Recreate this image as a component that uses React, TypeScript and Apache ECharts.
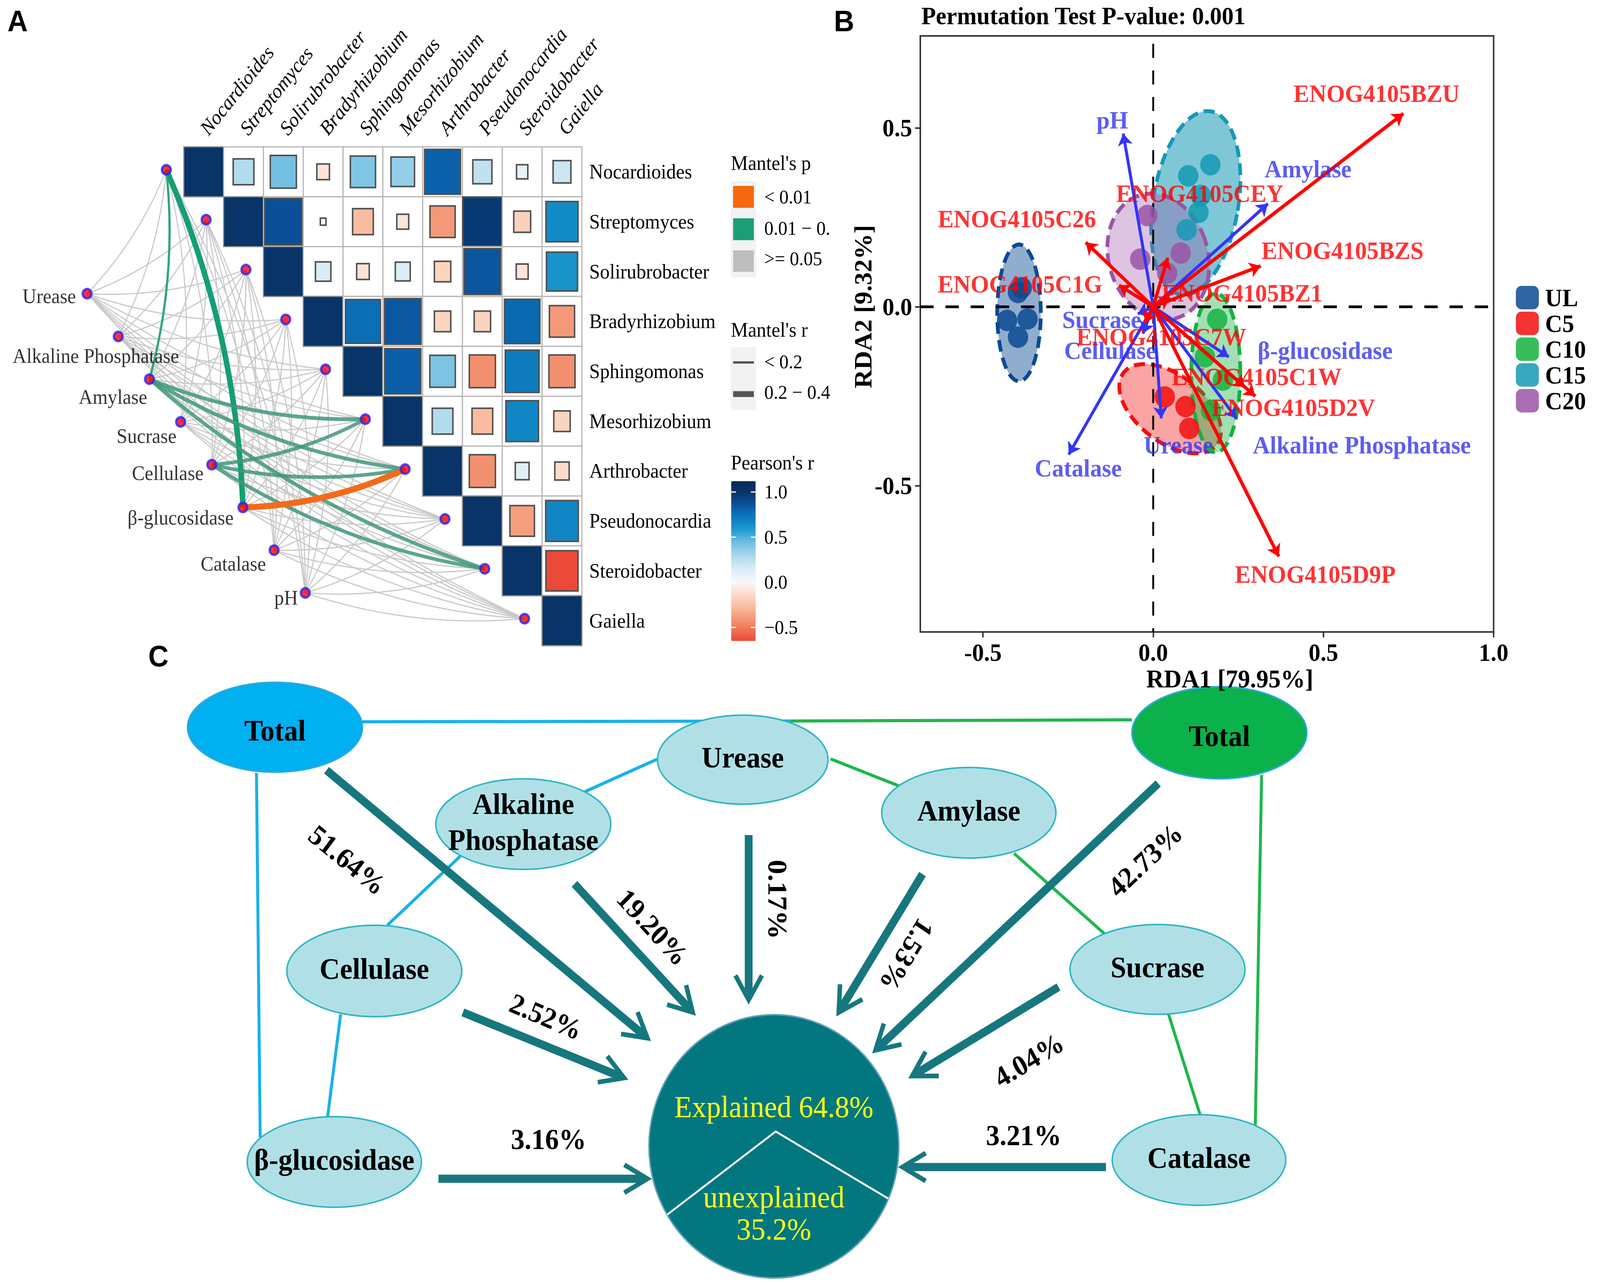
import React, { useEffect, useRef, useState } from "react";
import * as echarts from "echarts";

const W = 4317;
const H = 3290;
const SERIF = "'Liberation Serif', 'Times New Roman', serif";
const SANS = "'Liberation Sans', Arial, sans-serif";

// ================= Panel A data =================
const taxa = ["Nocardioides", "Streptomyces", "Solirubrobacter", "Bradyrhizobium", "Sphingomonas", "Mesorhizobium", "Arthrobacter", "Pseudonocardia", "Steroidobacter", "Gaiella"];
const envFactors = ["Urease", "Alkaline Phosphatase", "Amylase", "Sucrase", "Cellulase", "β-glucosidase", "Catalase", "pH"];
// Pearson's r, upper triangle (row i starts at column i)
const pearsonRow0 = [1.0, 0.27, 0.43, -0.1, 0.4, 0.35, 0.81, 0.23, 0.08, 0.2];
const pearsonRow1 = [1.0, 0.87, 0.02, -0.27, -0.09, -0.4, 0.97, -0.18, 0.65];
const pearsonRow2 = [1.0, 0.15, -0.1, 0.14, -0.17, 0.85, -0.09, 0.61];
const pearsonRow3 = [1.0, 0.77, 0.84, -0.17, -0.17, 0.79, -0.4];
const pearsonRow4 = [1.0, 0.82, 0.41, -0.43, 0.72, -0.43];
const pearsonRow5 = [1.0, 0.27, -0.27, 0.67, -0.17];
const pearsonRow6 = [1.0, -0.43, 0.12, -0.13];
const pearsonRow7 = [1.0, -0.38, 0.67];
const pearsonRow8 = [1.0, -0.65];
const pearsonRow9 = [1.0];
const pearsonUpper = [pearsonRow0, pearsonRow1, pearsonRow2, pearsonRow3, pearsonRow4, pearsonRow5, pearsonRow6, pearsonRow7, pearsonRow8, pearsonRow9];
// significant Mantel links
const mantelEnv = ["β-glucosidase", "Amylase", "Amylase", "Amylase", "Amylase", "Cellulase", "Cellulase", "Cellulase", "β-glucosidase"];
const mantelTaxon = ["Nocardioides", "Nocardioides", "Mesorhizobium", "Arthrobacter", "Steroidobacter", "Mesorhizobium", "Arthrobacter", "Steroidobacter", "Arthrobacter"];
const mantelP = ["0.01-0.05", "0.01-0.05", "0.01-0.05", "0.01-0.05", "0.01-0.05", "0.01-0.05", "0.01-0.05", "0.01-0.05", "<0.01"];
const mantelR = [0.37, 0.15, 0.24, 0.24, 0.24, 0.23, 0.23, 0.23, 0.39];
const pearsonTicks = [1.0, 0.5, 0.0, -0.5];
const pearsonTickText = ["1.0", "0.5", "0.0", "−0.5"];
const mantelPLevels = ["< 0.01", "0.01 − 0.", ">= 0.05"];
const mantelRLevels = ["< 0.2", "0.2 − 0.4"];

// ================= Panel B data =================
const rdaGroups = ["UL", "C5", "C10", "C15", "C20"];
const siteUL = [[-0.397, 0.04], [-0.386, 0.053], [-0.429, -0.038], [-0.369, -0.034], [-0.397, -0.085]];
const siteC5 = [[0.034, -0.252], [0.095, -0.279], [0.106, -0.34]];
const siteC10 = [[0.188, -0.035], [0.152, -0.14], [0.205, -0.205], [0.17, -0.29]];
const siteC15 = [[0.168, 0.397], [0.103, 0.366], [0.14, 0.311], [0.133, 0.264], [0.098, 0.215]];
const siteC20 = [[-0.017, 0.255], [-0.038, 0.133], [0.081, 0.15], [0.041, 0.094]];
// ellipse: centre x, centre y, semi-axis x, semi-axis y, rotation (deg)
const ellipseUL = [-0.394, -0.017, 0.064, 0.191, 0];
const ellipseC5 = [0.05, -0.285, 0.17, 0.095, -35];
const ellipseC10 = [0.184, -0.185, 0.072, 0.222, 0];
const ellipseC15 = [0.125, 0.29, 0.125, 0.26, -10];
const ellipseC20 = [0.015, 0.14, 0.145, 0.18, 20];
const envArrowNames = ["pH", "Amylase", "Sucrase", "Cellulase", "β-glucosidase", "Alkaline Phosphatase", "Urease", "Catalase"];
const envArrowTips = [[-0.088, 0.484], [0.337, 0.288], [-0.045, -0.02], [-0.03, -0.075], [0.222, -0.14], [0.245, -0.312], [0.024, -0.312], [-0.248, -0.413]];
const geneArrowNames = ["ENOG4105BZU", "ENOG4105CEY", "ENOG4105C26", "ENOG4105BZS", "ENOG4105C1G", "ENOG4105BZ1", "ENOG4105C7W", "ENOG4105C1W", "ENOG4105D2V", "ENOG4105D9P"];
const geneArrowTips = [[0.735, 0.54], [0.043, 0.137], [-0.198, 0.18], [0.316, 0.114], [-0.1, 0.06], [0.05, 0.025], [-0.025, -0.045], [0.27, -0.225], [0.3, -0.25], [0.369, -0.698]];
const permutationP = "0.001";
const rda1Pct = "79.95";
const rda2Pct = "9.32";

// ================= Panel C data =================
const vpFactors = ["Total", "Alkaline\nPhosphatase", "Urease", "Cellulase", "β-glucosidase", "Amylase", "Total", "Sucrase", "Catalase"];
const vpShares = [51.64, 19.2, 0.17, 2.52, 3.16, 1.53, 42.73, 4.04, 3.21];
const vpExplained = 64.8;
const vpUnexplained = 35.2;

// ================= Layout / styles =================
const envNodeStart = [-2.43, 2.944];
const envNodeStep = [0.783, 0.857];
const taxonNodeShift = [-0.44, 0.46];
const envLabelOffset = [[-30, 7], [164, 50], [-6, 46], [-11, 36], [-22, 22], [-25, 26], [-22, 35], [-20, 13]];

const groupColors = ["#0b4a92", "#f20f0f", "#16b140", "#1599b4", "#9a55a5"];
const groupFill = [0.45, 0.38, 0.4, 0.55, 0.35];
const envLabelAt = [[-0.12, 0.522], [0.455, 0.386], [-0.151, -0.036], [-0.126, -0.122], [0.505, -0.122], [0.613, -0.386], [0.074, -0.386], [-0.22, -0.45]];
const geneLabelAt = [[0.656, 0.597], [0.137, 0.317], [-0.4, 0.246], [0.556, 0.158], [-0.391, 0.064], [0.261, 0.039], [0.024, -0.084], [0.304, -0.195], [0.412, -0.281], [0.476, -0.747]];

// Panel C layout (x, y in panel units)
const vpNodeAt = [[742, 162, 236, 115], [1412, 410, 236, 116], [2004, 245, 230, 114], [1010, 786, 236, 117], [902, 1275, 235, 116], [2614, 381, 235, 116], [3290, 176, 236, 118], [3123, 782, 236, 115], [3235, 1270, 234, 116]];
const vpArrowAt = [[881, 272, 1747, 958], [1550, 563, 1869, 892], [2020, 438, 2020, 860], [1249, 892, 1684, 1060], [1183, 1318, 1747, 1318], [2489, 538, 2263, 892], [3125, 306, 2362, 989], [2856, 827, 2461, 1055], [2984, 1288, 2435, 1288]];
const vpLabelAt = [[937, 502, -38], [1761, 674, -46], [2098, 603, -90], [1473, 903, -22], [1480, 1217, 0], [2446, 745, -122.6], [3090, 502, 42], [2776, 1014, 30], [2762, 1207, 0]];
const vpBlueLinks = [[978, 148, 2133, 146], [1775, 243, 1578, 327], [1242, 492, 1045, 669], [919, 897, 884, 1159], [692, 279, 702, 1212]];
const vpGreenLinks = [[2133, 146, 3054, 143], [2241, 243, 2425, 312], [2736, 485, 2991, 700], [3153, 897, 3238, 1154], [3404, 284, 3387, 1181]];
const vpCircle = [2088, 1235, 337];

// colour helpers
function hexRgb(h: string) {
  const n = parseInt(h.slice(1), 16);
  return [(n >> 16) & 255, (n >> 8) & 255, n & 255];
}
function rgba(h: string, a: number) {
  const [r, g, b] = hexRgb(h);
  return `rgba(${r},${g},${b},${a})`;
}
const pearsonAnchors: [number, string][] = [
  [-0.65, "#ea4a37"], [-0.45, "#f38a69"], [-0.25, "#f9c2a6"], [-0.1, "#fde2d5"], [0, "#f8f8f8"],
  [0.15, "#d9edf6"], [0.3, "#a8d7ec"], [0.45, "#6cbde0"], [0.6, "#1896cc"], [0.75, "#0a74bb"],
  [0.87, "#0b4f98"], [1.0, "#083468"], [1.12, "#07295a"],
];
function pearsonColor(v: number) {
  for (let i = 0; i < pearsonAnchors.length - 1; i++) {
    const [v0, c0] = pearsonAnchors[i];
    const [v1, c1] = pearsonAnchors[i + 1];
    if (v <= v1 || i === pearsonAnchors.length - 2) {
      const t = Math.max(0, Math.min(1, (v - v0) / (v1 - v0)));
      const a = hexRgb(c0), b = hexRgb(c1);
      const m = a.map((x, k) => Math.round(x + (b[k] - x) * t));
      return "#" + m.map((x) => x.toString(16).padStart(2, "0")).join("");
    }
  }
  return "#ffffff";
}
const VM_MIN = -0.65;
const VM_MAX = 1.12;
const VM_TOP = 1232;
const VM_H = 409;
const vmColors = Array.from({ length: 60 }, (_, i) => pearsonColor(VM_MIN + ((VM_MAX - VM_MIN) * i) / 59));

function buildOption() {
  // ---- Panel A ----
  const cellData: number[][] = [];
  pearsonUpper.forEach((row, i) => row.forEach((v, k) => cellData.push([i + k, i, v])));
  const envPos = envFactors.map((_, i) => [envNodeStart[0] + i * envNodeStep[0], envNodeStart[1] + i * envNodeStep[1]]);
  const taxPos = taxa.map((_, i) => [i + taxonNodeShift[0], i + taxonNodeShift[1]]);
  const sig = new Set(mantelEnv.map((e, i) => e + "|" + mantelTaxon[i]));
  const greyLinks: any[] = [];
  envFactors.forEach((e, i) =>
    taxa.forEach((t, j) => {
      if (!sig.has(e + "|" + t)) greyLinks.push({ coords: [envPos[i], taxPos[j]] });
    })
  );
  const sigLinks = mantelEnv.map((e, i) => {
    const a = envPos[envFactors.indexOf(e)];
    const b = taxPos[taxa.indexOf(mantelTaxon[i])];
    const w = mantelR[i] < 0.2 ? 6 : mantelR[i] * 40;
    const strong = mantelR[i] > 0.3;
    const color = mantelP[i] === "<0.01" ? "#f26b1a" : strong ? "#159e76" : mantelR[i] < 0.2 ? "#2fa57f" : "#3f977a";
    return { coords: [a, b], lineStyle: { width: w, color, opacity: strong || mantelR[i] < 0.2 ? 1 : 0.85 } };
  });
  const nodeData = [
    ...envFactors.map((n, i) => ({
      name: n,
      value: envPos[i],
      label: { show: true, offset: envLabelOffset[i] },
    })),
    ...taxa.map((n, i) => ({ name: n, value: taxPos[i], label: { show: false } })),
  ];

  // ---- Panel B ----
  const sites = [siteUL, siteC5, siteC10, siteC15, siteC20];
  const ellipses = [ellipseUL, ellipseC5, ellipseC10, ellipseC15, ellipseC20];

  const series: any[] = [
    // 0 heatmap cells
    {
      type: "custom",
      xAxisIndex: 0,
      yAxisIndex: 0,
      data: cellData,
      z: 2,
      silent: true,
      renderItem: (params: any, api: any) => {
        const c = api.value(0), r = api.value(1), v = api.value(2);
        const p0 = api.coord([c, r]);
        const p1 = api.coord([c + 1, r + 1]);
        const x = Math.min(p0[0], p1[0]), y = Math.min(p0[1], p1[1]);
        const w = Math.abs(p1[0] - p0[0]), h = Math.abs(p1[1] - p0[1]);
        const diag = c === r;
        const f = diag ? 1 : Math.sqrt(Math.abs(v));
        const iw = w * f, ih = h * f;
        return {
          type: "group",
          children: [
            { type: "rect", shape: { x, y, width: w, height: h }, style: { fill: "#ffffff", stroke: "#b5b5b5", lineWidth: 3 } },
            {
              type: "rect",
              shape: { x: x + (w - iw) / 2, y: y + (h - ih) / 2, width: iw, height: ih },
              style: { fill: api.visual("color"), stroke: diag ? "#8c8c8c" : "#505050", lineWidth: diag ? 3 : 4 },
            },
          ],
        };
      },
    },
    // 1 grey mantel links
    {
      type: "lines",
      coordinateSystem: "cartesian2d",
      xAxisIndex: 0,
      yAxisIndex: 0,
      clip: false,
      silent: true,
      z: 3,
      symbol: "none",
      lineStyle: { color: "#c9c9c9", width: 3, curveness: -0.1, opacity: 1 },
      data: greyLinks,
    },
    // 2 significant links
    {
      type: "lines",
      coordinateSystem: "cartesian2d",
      xAxisIndex: 0,
      yAxisIndex: 0,
      clip: false,
      silent: true,
      z: 4,
      symbol: "none",
      lineStyle: { curveness: -0.1 },
      data: sigLinks,
    },
    // 3 nodes
    {
      type: "scatter",
      xAxisIndex: 0,
      yAxisIndex: 0,
      clip: false,
      silent: true,
      z: 5,
      symbol: "circle",
      symbolSize: 24,
      itemStyle: { color: "#ff0000", borderColor: "#2323ff", borderWidth: 6 },
      label: {
        show: true,
        position: "inside",
        align: "right",
        verticalAlign: "middle",
        formatter: "{b}",
        color: "#000",
        fontFamily: SERIF,
        fontSize: 52,
      },
      data: nodeData,
    },
    // 4 ellipses (panel B)
    {
      type: "custom",
      xAxisIndex: 2,
      yAxisIndex: 2,
      z: 2,
      silent: true,
      data: ellipses,
      renderItem: (params: any, api: any) => {
        const i = params.dataIndex;
        const cx = api.value(0), cy = api.value(1), sx = api.value(2), sy = api.value(3), rot = (api.value(4) * Math.PI) / 180;
        const pts: number[][] = [];
        for (let k = 0; k < 120; k++) {
          const t = (k / 120) * Math.PI * 2;
          const lx = sx * Math.cos(t), ly = sy * Math.sin(t);
          pts.push(api.coord([cx + lx * Math.cos(rot) - ly * Math.sin(rot), cy + lx * Math.sin(rot) + ly * Math.cos(rot)]));
        }
        return {
          type: "polygon",
          shape: { points: pts },
          style: { fill: rgba(groupColors[i], groupFill[i]), stroke: groupColors[i], lineWidth: 10, lineDash: [30, 16] },
        };
      },
    },
    // 5 zero lines
    {
      type: "lines",
      coordinateSystem: "cartesian2d",
      xAxisIndex: 2,
      yAxisIndex: 2,
      z: 3,
      silent: true,
      symbol: "none",
      lineStyle: { color: "#000", type: [36, 32], width: 6, opacity: 1 },
      data: [
        { coords: [[0, 0.735], [0, -0.909]], lineStyle: { width: 5 } },
        { coords: [[-0.684, 0], [1.0, 0]], lineStyle: { width: 7 } },
      ],
    },
    // 6-10 sites
    ...rdaGroups.map((g, i) => ({
      type: "scatter",
      name: g,
      xAxisIndex: 2,
      yAxisIndex: 2,
      z: 4,
      silent: true,
      symbol: "circle",
      symbolSize: 55,
      itemStyle: { color: groupColors[i], opacity: 0.85 },
      data: sites[i],
    })),
    // 11 env arrows
    {
      type: "lines",
      coordinateSystem: "cartesian2d",
      xAxisIndex: 2,
      yAxisIndex: 2,
      z: 5,
      silent: true,
      symbol: ["none", "arrow"],
      symbolSize: 30,
      lineStyle: { color: "#3535f5", width: 8, opacity: 1 },
      data: envArrowTips.map((t) => ({ coords: [[0, 0], t] })),
    },
    // 12 gene arrows
    {
      type: "lines",
      coordinateSystem: "cartesian2d",
      xAxisIndex: 2,
      yAxisIndex: 2,
      z: 5,
      silent: true,
      symbol: ["none", "arrow"],
      symbolSize: 30,
      lineStyle: { color: "#ff0000", width: 9, opacity: 1 },
      data: geneArrowTips.map((t) => ({ coords: [[0, 0], t] })),
    },
    // 13 env labels
    {
      type: "scatter",
      xAxisIndex: 2,
      yAxisIndex: 2,
      z: 6,
      silent: true,
      symbolSize: 1,
      itemStyle: { color: "rgba(0,0,0,0)" },
      label: { show: true, position: "inside", formatter: "{b}", color: "#3535f0", fontFamily: SERIF, fontWeight: "bold", fontSize: 64 },
      data: envArrowNames.map((n, i) => ({ name: n, value: envLabelAt[i] })),
    },
    // 14 gene labels
    {
      type: "scatter",
      xAxisIndex: 2,
      yAxisIndex: 2,
      z: 6,
      silent: true,
      symbolSize: 1,
      itemStyle: { color: "rgba(0,0,0,0)" },
      label: { show: true, position: "inside", formatter: "{b}", color: "#ff0000", fontFamily: SERIF, fontWeight: "bold", fontSize: 64 },
      data: geneArrowNames.map((n, i) => ({ name: n, value: geneLabelAt[i] })),
    },
    // 15 panel C links
    {
      type: "lines",
      coordinateSystem: "cartesian2d",
      xAxisIndex: 3,
      yAxisIndex: 3,
      z: 2,
      silent: true,
      clip: false,
      symbol: "none",
      lineStyle: { width: 8, opacity: 1 },
      data: [
        ...vpBlueLinks.map((l) => ({ coords: [[l[0], l[1]], [l[2], l[3]]], lineStyle: { color: "#17b1ec" } })),
        ...vpGreenLinks.map((l) => ({ coords: [[l[0], l[1]], [l[2], l[3]]], lineStyle: { color: "#1fb64f" } })),
      ],
    },
    // 16 panel C arrows
    {
      type: "custom",
      xAxisIndex: 3,
      yAxisIndex: 3,
      z: 3,
      silent: true,
      data: vpShares.map((s, i) => [i, s]),
      renderItem: (params: any, api: any) => {
        const L = vpArrowAt[params.dataIndex];
        const a = api.coord([L[0], L[1]]);
        const b = api.coord([L[2], L[3]]);
        const ang = Math.atan2(b[1] - a[1], b[0] - a[0]);
        const len = 72, spread = 0.52;
        const l1 = [b[0] - len * Math.cos(ang - spread), b[1] - len * Math.sin(ang - spread)];
        const l2 = [b[0] - len * Math.cos(ang + spread), b[1] - len * Math.sin(ang + spread)];
        const e = [b[0] - 10 * Math.cos(ang), b[1] - 10 * Math.sin(ang)];
        return {
          type: "group",
          children: [
            { type: "line", shape: { x1: a[0], y1: a[1], x2: e[0], y2: e[1] }, style: { stroke: "#17777e", lineWidth: 21 } },
            { type: "polyline", shape: { points: [l1, b, l2] }, style: { stroke: "#17777e", fill: "none", lineWidth: 12, lineJoin: "miter" } },
          ],
        };
      },
    },
    // 17 panel C nodes
    {
      type: "custom",
      xAxisIndex: 3,
      yAxisIndex: 3,
      z: 4,
      silent: true,
      data: vpFactors.map((f, i) => [i]),
      renderItem: (params: any, api: any) => {
        const i = params.dataIndex;
        const n = vpNodeAt[i];
        const c = api.coord([n[0], n[1]]);
        const s = api.size([n[2], n[3]]);
        const isTotal = vpFactors[i] === "Total";
        const fill = isTotal ? (i === 0 ? "#00b0f0" : "#0bb14b") : "#b0e0e6";
        const stroke = isTotal ? "#2ea8dd" : "#2fb5c3";
        return {
          type: "group",
          children: [
            { type: "ellipse", shape: { cx: c[0], cy: c[1], rx: s[0], ry: s[1] }, style: { fill, stroke, lineWidth: 4 } },
            {
              type: "text",
              x: c[0],
              y: c[1] + (isTotal ? 8 : -6),
              style: {
                text: vpFactors[i],
                fill: "#000",
                fontFamily: SERIF,
                fontWeight: "bold",
                fontSize: 76,
                lineHeight: 92,
                align: "center",
                verticalAlign: "middle",
                textAlign: "center",
                textVerticalAlign: "middle",
              },
            },
          ],
        };
      },
    },
    // 18 centre circle
    {
      type: "custom",
      xAxisIndex: 3,
      yAxisIndex: 3,
      z: 4,
      silent: true,
      data: [[vpExplained, vpUnexplained]],
      renderItem: (params: any, api: any) => {
        const c = api.coord([vpCircle[0], vpCircle[1]]);
        const r = api.size([vpCircle[2], vpCircle[2]])[0];
        const pL = api.coord([1800, 1410]);
        const pA = api.coord([2093, 1197]);
        const pR = api.coord([2397, 1369]);
        const tx = (t: string, y: number) => ({
          type: "text",
          x: c[0],
          y,
          style: {
            text: t,
            fill: "#ffff1a",
            fontFamily: SERIF,
            fontSize: 78,
            lineHeight: 82,
            align: "center",
            verticalAlign: "middle",
            textAlign: "center",
            textVerticalAlign: "middle",
          },
        });
        return {
          type: "group",
          children: [
            { type: "circle", shape: { cx: c[0], cy: c[1], r }, style: { fill: "#03777f", stroke: "#5f9fb8", lineWidth: 4 } },
            { type: "polyline", shape: { points: [pL, pA, pR] }, style: { stroke: "#ffffff", fill: "none", lineWidth: 5 } },
            tx(`Explained ${api.value(0)}%`, api.coord([0, 1133])[1]),
            tx(`unexplained\n${api.value(1)}%`, api.coord([0, 1405])[1]),
          ],
        };
      },
    },
    // 19 panel C percentage labels
    {
      type: "custom",
      xAxisIndex: 3,
      yAxisIndex: 3,
      z: 5,
      silent: true,
      data: vpShares.map((s, i) => [i, s]),
      renderItem: (params: any, api: any) => {
        const i = params.dataIndex;
        const L = vpLabelAt[i];
        const p = api.coord([L[0], L[1]]);
        return {
          type: "text",
          x: p[0],
          y: p[1],
          rotation: (L[2] * Math.PI) / 180,
          style: {
            text: `${vpShares[i].toFixed(2)}%`,
            fill: "#000",
            fontFamily: SERIF,
            fontWeight: "bold",
            fontSize: 74,
            align: "center",
            verticalAlign: "middle",
            textAlign: "center",
            textVerticalAlign: "middle",
          },
        };
      },
    },
  ];

  const txt = (text: string, x: number, y: number, size: number, opts: any = {}) => ({
    type: "text",
    x,
    y,
    rotation: opts.rotation || 0,
    z: 10,
    silent: true,
    style: {
      text,
      fill: opts.fill || "#000",
      fontFamily: opts.family || SERIF,
      fontWeight: opts.weight || "normal",
      fontStyle: opts.style || "normal",
      fontSize: size,
      align: opts.align || "left",
      verticalAlign: "middle",
      textAlign: opts.align || "left",
      textVerticalAlign: "middle",
    },
  });

  const vmY = (v: number) => VM_TOP + ((VM_MAX - v) / (VM_MAX - VM_MIN)) * VM_H;
  const graphic: any[] = [
    txt("A", 20, 54, 76, { family: SANS, weight: "bold" }),
    txt("B", 2250, 54, 76, { family: SANS, weight: "bold" }),
    txt("C", 400, 1680, 76, { family: SANS, weight: "bold" }),
    txt(`Permutation Test P-value: ${permutationP}`, 2486, 40, 64, { weight: "bold" }),
    txt(`RDA1 [${rda1Pct}%]`, 3318, 1738, 66, { weight: "bold", align: "center" }),
    txt(`RDA2 [${rda2Pct}%]`, 2329, 785, 66, { weight: "bold", align: "center", rotation: Math.PI / 2 }),
    // Mantel's p legend
    txt("Mantel's p", 1972, 418, 52),
    { type: "rect", z: 9, silent: true, shape: { x: 1972, y: 463, width: 68, height: 247 }, style: { fill: "#f2f2f2" } },
    { type: "rect", z: 10, silent: true, shape: { x: 1978, y: 476, width: 56, height: 56 }, style: { fill: "#f46810" } },
    { type: "rect", z: 10, silent: true, shape: { x: 1978, y: 559, width: 56, height: 56 }, style: { fill: "#1b9e77" } },
    { type: "rect", z: 10, silent: true, shape: { x: 1978, y: 641, width: 56, height: 55 }, style: { fill: "#bebebe" } },
    txt(mantelPLevels[0], 2062, 505, 50),
    txt(mantelPLevels[1], 2062, 585, 50),
    txt(mantelPLevels[2], 2062, 663, 50),
    // Mantel's r legend
    txt("Mantel's r", 1972, 845, 52),
    { type: "rect", z: 9, silent: true, shape: { x: 1972, y: 889, width: 68, height: 161 }, style: { fill: "#f2f2f2" } },
    { type: "line", z: 10, silent: true, shape: { x1: 1978, y1: 928, x2: 2034, y2: 928 }, style: { stroke: "#555", lineWidth: 6 } },
    { type: "line", z: 10, silent: true, shape: { x1: 1978, y1: 1009, x2: 2034, y2: 1009 }, style: { stroke: "#555", lineWidth: 15 } },
    txt(mantelRLevels[0], 2062, 927, 50),
    txt(mantelRLevels[1], 2062, 1005, 50),
    // Pearson's r legend
    txt("Pearson's r", 1972, 1185, 52),
    ...pearsonTicks.map((v, i) => txt(pearsonTickText[i], 2062, vmY(v), 50)),
    ...pearsonTicks.flatMap((v) => [
      { type: "line", z: 11, silent: true, shape: { x1: 1973, y1: vmY(v), x2: 1986, y2: vmY(v) }, style: { stroke: "#fff", lineWidth: 3 } },
      { type: "line", z: 11, silent: true, shape: { x1: 2026, y1: vmY(v), x2: 2039, y2: vmY(v) }, style: { stroke: "#fff", lineWidth: 3 } },
    ]),
  ];

  const bAxisLabel = {
    fontFamily: SERIF,
    fontWeight: "bold",
    fontSize: 64,
    color: "#000",
    formatter: (v: number) => v.toFixed(1),
  };

  return {
    animation: false,
    backgroundColor: "#ffffff",
    grid: [
      { left: 496, top: 376, width: 1074, height: 1277 },
      { left: 2483, top: 92, width: 1547, height: 1526, show: true, borderColor: "#333", borderWidth: 4, backgroundColor: "transparent" },
      { left: 0, top: 1700, width: 4317, height: 1590 },
    ],
    xAxis: [
      { gridIndex: 0, type: "value", min: 0, max: 10, show: false },
      {
        gridIndex: 0,
        type: "category",
        position: "top",
        data: taxa,
        axisLine: { show: false, onZero: false },
        axisTick: { show: false },
        splitLine: { show: false },
        axisLabel: { interval: 0, rotate: -50, margin: 38, fontFamily: SERIF, fontStyle: "italic", fontSize: 52, color: "#000" },
      },
      {
        gridIndex: 1,
        type: "value",
        min: -0.684,
        max: 1.0,
        minInterval: 0.5,
        maxInterval: 0.5,
        splitLine: { show: false },
        axisLine: { show: true, onZero: false, lineStyle: { color: "#333", width: 4 } },
        axisTick: { show: true, length: 14, lineStyle: { color: "#333", width: 4 } },
        axisLabel: { ...bAxisLabel, margin: 20, showMinLabel: false },
      },
      { gridIndex: 2, type: "value", min: 0, max: 4317, show: false },
    ],
    yAxis: [
      { gridIndex: 0, type: "value", min: 0, max: 10, inverse: true, show: false },
      {
        gridIndex: 0,
        type: "category",
        position: "right",
        inverse: true,
        data: taxa,
        axisLine: { show: false, onZero: false },
        axisTick: { show: false },
        splitLine: { show: false },
        axisLabel: { interval: 0, margin: 20, fontFamily: SERIF, fontSize: 52, color: "#000" },
      },
      {
        gridIndex: 1,
        type: "value",
        min: -0.909,
        max: 0.757,
        minInterval: 0.5,
        maxInterval: 0.5,
        splitLine: { show: false },
        axisLine: { show: true, onZero: false, lineStyle: { color: "#333", width: 4 } },
        axisTick: { show: true, length: 14, lineStyle: { color: "#333", width: 4 } },
        axisLabel: { ...bAxisLabel, margin: 22, showMinLabel: false, showMaxLabel: false },
      },
      { gridIndex: 2, type: "value", min: 0, max: 1590, inverse: true, show: false },
    ],
    visualMap: {
      type: "continuous",
      seriesIndex: 0,
      dimension: 2,
      min: VM_MIN,
      max: VM_MAX,
      calculable: false,
      hoverLink: false,
      orient: "vertical",
      left: 1973,
      top: VM_TOP,
      itemWidth: 66,
      itemHeight: VM_H,
      padding: 0,
      inRange: { color: vmColors },
      textStyle: { color: "transparent" },
    },
    legend: {
      data: rdaGroups,
      orient: "vertical",
      align: "left",
      left: 4090,
      top: 730,
      padding: 0,
      itemWidth: 62,
      itemHeight: 60,
      itemGap: 2,
      icon: "roundRect",
      selectedMode: false,
      textStyle: { fontFamily: SERIF, fontWeight: "bold", fontSize: 64, color: "#000", lineHeight: 62, padding: [0, 0, 0, 12] },
    },
    graphic,
    series,
  };
}

export default function App() {
  const ref = useRef<HTMLDivElement>(null);
  const [scale, setScale] = useState<[number, number]>([1, 1]);
  useEffect(() => {
    document.documentElement.style.margin = "0";
    document.documentElement.style.overflow = "hidden";
    document.body.style.margin = "0";
    document.body.style.overflow = "hidden";
    // the visible page may be narrower than the 4317px drawing: fit the drawing into it
    const vw = document.documentElement.clientWidth || window.innerWidth;
    const vh = document.documentElement.clientHeight || window.innerHeight;
    setScale([Math.min(1, vw / W), Math.min(1, vh / H)]);
    const chart = echarts.init(ref.current as HTMLDivElement, null, { renderer: "svg", width: W, height: H });
    chart.setOption(buildOption() as any);
    return () => chart.dispose();
  }, []);
  return (
    <div style={{ width: Math.floor(W * scale[0]), height: Math.floor(H * scale[1]), overflow: "hidden", position: "relative" }}>
      <div
        ref={ref}
        style={{ width: W, height: H, background: "#fff", transform: `scale(${scale[0]}, ${scale[1]})`, transformOrigin: "0 0", position: "absolute", left: 0, top: 0 }}
      />
    </div>
  );
}
